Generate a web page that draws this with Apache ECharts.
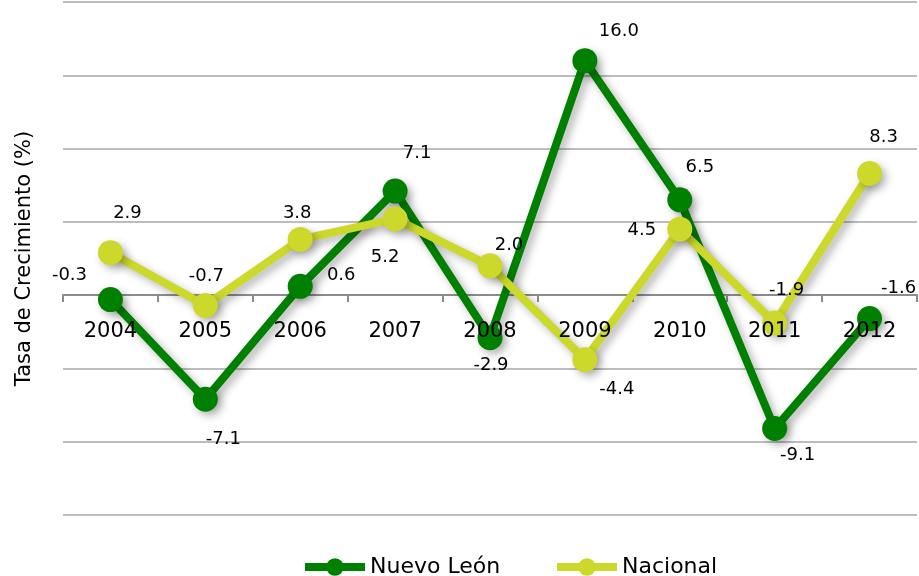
<!DOCTYPE html>
<html>
<head>
<meta charset="utf-8">
<script src="https://cdn.jsdelivr.net/npm/echarts@6/dist/echarts.min.js"></script>
<style>html,body{margin:0;padding:0;background:#fff}#c{width:919px;height:576px}</style>
</head>
<body>
<div id="c"></div>
<script>
const categories = ['2004', '2005', '2006', '2007', '2008', '2009', '2010', '2011', '2012'];
const nuevoLeon = [-0.3, -7.1, 0.6, 7.1, -2.9, 16.0, 6.5, -9.1, -1.6];
const nacional = [2.9, -0.7, 3.8, 5.2, 2.0, -4.4, 4.5, -1.9, 8.3];
const yTicks = { min: -15, max: 20, interval: 5 };

// label placement (style only): offsets of each value label from its point
const nlLabelOffsets = [[-41,-24],[18,40],[41,-11],[22,-38],[1,28],[34,-29],[20,-33],[23,27],[29,-30]];
const naLabelOffsets = [[17,-39],[1,-29],[-3,-26],[-10,38],[19,-21],[32,30],[-38,1],[12,-33],[14,-36]];

const FONT = 'DejaVu Sans';
const GREEN = '#008000';
const LIME = '#ccd92a';
const GRID = { left: 63, right: 2, top: 2, bottom: 61 };
const H = 576;
// place the category axis on the zero line
const plotH = H - GRID.top - GRID.bottom;
const zeroFromBottom = plotH * (0 - yTicks.min) / (yTicks.max - yTicks.min);

function items(vals, offs) {
  return vals.map((v, i) => ({ value: v, label: { offset: offs[i] } }));
}
function series(name, vals, offs, color) {
  return {
    name: name,
    type: 'line',
    data: items(vals, offs),
    symbol: 'circle',
    symbolSize: 25,
    lineStyle: { color: color, width: 8, shadowColor: 'rgba(0,0,0,0.3)', shadowBlur: 8, shadowOffsetX: 4, shadowOffsetY: 4 },
    itemStyle: { color: color, shadowColor: 'rgba(0,0,0,0.3)', shadowBlur: 8, shadowOffsetX: 4, shadowOffsetY: 4 },
    label: {
      show: true, position: 'inside', color: '#000', fontFamily: FONT, fontSize: 18,
      align: 'center', verticalAlign: 'middle',
      formatter: p => p.value.toFixed(1)
    },
    emphasis: { disabled: true },
    animation: false
  };
}
function legend(name, left) {
  return {
    data: [name], left: left, top: 556, padding: 0, itemWidth: 60, itemHeight: 22, itemGap: 0,
    textStyle: { fontFamily: FONT, fontSize: 22, color: '#000' },
    lineStyle: { width: 8, shadowBlur: 0, shadowOffsetX: 0, shadowOffsetY: 0 },
    itemStyle: { shadowBlur: 0, shadowOffsetX: 0, shadowOffsetY: 0 }
  };
}
const axisOffset = -Math.round(zeroFromBottom);

const chart = echarts.init(document.getElementById('c'));
chart.setOption({
  backgroundColor: '#fff',
  animation: false,
  grid: { left: GRID.left, right: GRID.right, top: GRID.top, bottom: GRID.bottom, containLabel: false },
  legend: [legend('Nuevo León', 301), legend('Nacional', 553)],
  xAxis: [{
    type: 'category', data: categories, boundaryGap: true, z: 0,
    position: 'bottom', offset: axisOffset,
    axisLine: { onZero: false, lineStyle: { color: '#8c8c8c', width: 2 } },
    axisTick: { show: true, length: 7, lineStyle: { color: '#8c8c8c', width: 2 } },
    axisLabel: { show: false },
    splitLine: { show: false }
  }, {
    type: 'category', data: categories, boundaryGap: true, z: 10,
    position: 'bottom', offset: axisOffset,
    axisLine: { show: false, onZero: false },
    axisTick: { show: false },
    axisLabel: { color: '#000', fontFamily: FONT, fontSize: 21, margin: 26 },
    splitLine: { show: false }
  }],
  yAxis: {
    type: 'value', min: yTicks.min, max: yTicks.max, interval: yTicks.interval,
    name: 'Tasa de Crecimiento (%)', nameLocation: 'middle', nameGap: 28,
    nameTextStyle: { color: '#000', fontFamily: FONT, fontSize: 21 },
    axisLabel: { show: false }, axisLine: { show: false }, axisTick: { show: false },
    splitLine: { lineStyle: { color: '#bdbdbd', width: 2 } }
  },
  series: [
    series('Nuevo León', nuevoLeon, nlLabelOffsets, GREEN),
    series('Nacional', nacional, naLabelOffsets, LIME)
  ]
});
</script>
</body>
</html>
